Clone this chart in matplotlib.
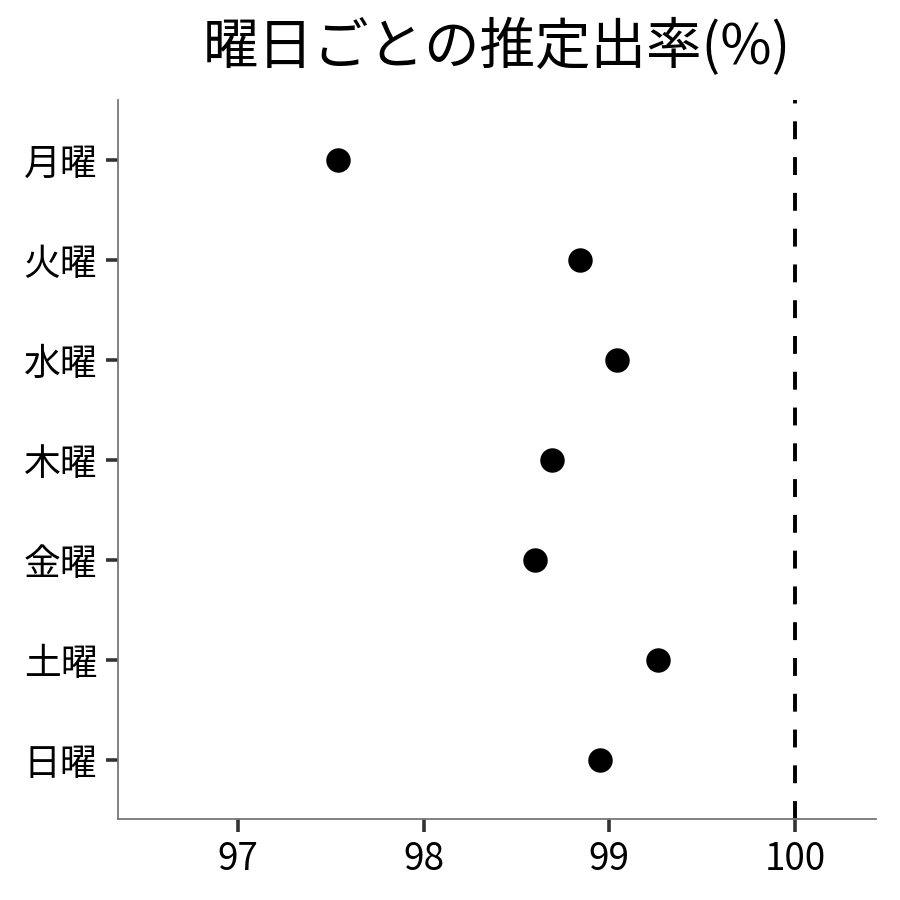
import matplotlib
matplotlib.use("Agg")
import matplotlib.pyplot as plt

plt.rcParams['font.family'] = ['Noto Sans CJK JP', 'DejaVu Sans']

days = ['月曜', '火曜', '水曜', '木曜', '金曜', '土曜', '日曜']
rate = [97.54, 98.84, 99.04, 98.69, 98.60, 99.26, 98.95]
ref_line = 100
xticks = [97, 98, 99, 100]

fig = plt.figure(figsize=(9, 9), dpi=100)
ax = fig.add_axes([0.1311, 0.09, 0.8422, 0.799])

ypos = list(range(len(days)))
ax.scatter(rate, ypos, s=310, color='black', zorder=3, linewidths=0)
ax.axvline(ref_line, color='black', linestyle=(0, (4.6, 4.6)), linewidth=2.8)

ax.set_xlim(96.354, 100.436)
ax.set_ylim(6.59, -0.6)
ax.set_yticks(ypos)
ax.set_yticklabels(days)
ax.set_xticks(xticks)
ax.set_xticklabels([str(v) for v in xticks])

ax.tick_params(axis='both', labelsize=26.5, length=9, width=2.6, color='#333333', pad=6)
for side in ('top', 'right'):
    ax.spines[side].set_visible(False)
for side in ('left', 'bottom'):
    ax.spines[side].set_color('#777777')
    ax.spines[side].set_linewidth(1.3)

ax.set_title('曜日ごとの推定出率(%)', fontsize=40, pad=26)

fig.savefig('out.png', dpi=100)
